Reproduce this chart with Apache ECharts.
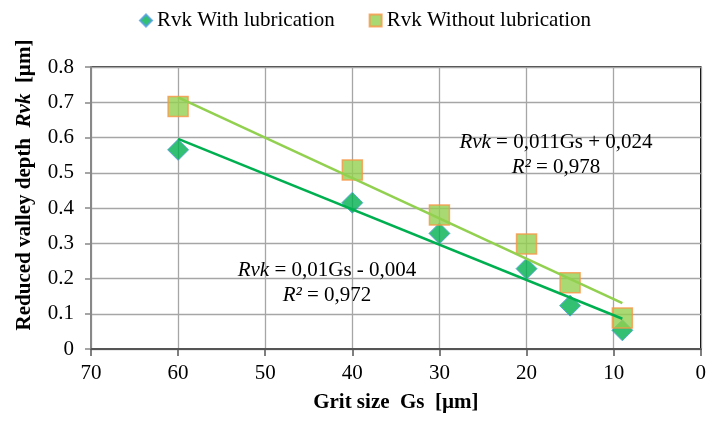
<!DOCTYPE html>
<html>
<head>
<meta charset="utf-8">
<script src="https://cdn.jsdelivr.net/npm/echarts@6/dist/echarts.min.js"></script>
<style>
html,body{margin:0;padding:0;background:#fff;}
#chart{width:709px;height:421px;}
</style>
</head>
<body>
<div id="chart"></div>
<script>
// Data
var gritSizes = [60, 40, 30, 20, 15, 9];
var rvkWith = [0.565, 0.415, 0.328, 0.228, 0.123, 0.053];
var rvkWithout = [0.688, 0.508, 0.380, 0.298, 0.188, 0.088];
// trendline endpoints (Gs = 60 and Gs = 9)
var trendX = [60, 9];
var trendWith = [0.596, 0.086];
var trendWithout = [0.714, 0.130];
var seriesNames = ['Rvk With lubrication', 'Rvk Without lubrication'];
var eqWith = ['Rvk', ' = 0,01Gs - 0,004', 'R²', ' = 0,972'];
var eqWithout = ['Rvk', ' = 0,011Gs + 0,024', 'R²', ' = 0,978'];

var FONT = '"Liberation Serif","Times New Roman",serif';

function pairs(xs, ys) {
  return xs.map(function (x, i) { return [x, ys[i]]; });
}

var chart = echarts.init(document.getElementById('chart'), null, {renderer: 'canvas'});

var option = {
  backgroundColor: '#ffffff',
  animation: false,
  textStyle: {fontFamily: FONT},
  legend: {
    left: 134,
    top: 5,
    itemWidth: 12,
    itemHeight: 12,
    itemGap: 34,
    textStyle: {fontFamily: FONT, fontSize: 21, color: '#000'},
    data: [
      {name: seriesNames[0], icon: 'diamond'},
      {name: seriesNames[1], icon: 'rect'}
    ]
  },
  grid: {
    left: 91, right: 8, top: 67, bottom: 72,
    show: true,
    borderColor: '#000',
    borderWidth: 1.5
  },
  xAxis: {
    type: 'value',
    inverse: true,
    min: 0, max: 70, interval: 10,
    name: 'Grit size  Gs  [µm]',
    nameLocation: 'middle',
    nameGap: 43,
    nameTextStyle: {fontFamily: FONT, fontSize: 21, fontWeight: 'bold', color: '#000'},
    axisLine: {show: true, onZero: false, lineStyle: {color: '#555', width: 2}},
    axisTick: {show: true, length: 7, lineStyle: {color: '#555', width: 1.5}},
    axisLabel: {fontFamily: FONT, fontSize: 21, color: '#000', margin: 14},
    splitLine: {show: true, lineStyle: {color: '#a6a6a6', width: 1.3}}
  },
  yAxis: {
    type: 'value',
    min: 0, max: 0.8, interval: 0.1,
    axisLine: {show: true, onZero: false, lineStyle: {color: '#888', width: 2}},
    axisTick: {show: true, length: 6, lineStyle: {color: '#888', width: 1.5}},
    axisLabel: {
      fontFamily: FONT, fontSize: 21, color: '#000', margin: 17,
      formatter: function (v) { return v === 0 ? '0' : v.toFixed(1); }
    },
    splitLine: {show: true, lineStyle: {color: '#a6a6a6', width: 1.3}}
  },
  series: [
    {
      name: seriesNames[0],
      type: 'scatter',
      symbol: 'diamond',
      symbolSize: 21,
      itemStyle: {color: '#00B050', borderColor: '#4F9BE0', borderWidth: 1},
      data: pairs(gritSizes, rvkWith),
      z: 2
    },
    {
      name: seriesNames[1],
      type: 'scatter',
      symbol: 'rect',
      symbolSize: 20,
      itemStyle: {color: '#92D050', borderColor: '#F79646', borderWidth: 1.5},
      data: pairs(gritSizes, rvkWithout),
      z: 3
    },
    {
      name: 'trendWith',
      type: 'line',
      data: pairs(trendX, trendWith),
      symbol: 'none',
      lineStyle: {color: '#00B050', width: 2.6},
      z: 4,
      silent: true
    },
    {
      name: 'trendWithout',
      type: 'line',
      data: pairs(trendX, trendWithout),
      symbol: 'none',
      lineStyle: {color: '#92D050', width: 2.6},
      z: 4,
      silent: true
    }
  ],
  graphic: [
    {
      type: 'text',
      x: 25, y: 185,
      rotation: Math.PI / 2,
      style: {
        text: '{b|Reduced valley depth  }{bi|Rvk}{b|  [µm]}',
        align: 'center', verticalAlign: 'middle',
        rich: {
          b: {fontFamily: FONT, fontSize: 21, fontWeight: 'bold', fill: '#000'},
          bi: {fontFamily: FONT, fontSize: 21, fontWeight: 'bold', fontStyle: 'italic', fill: '#000'}
        }
      }
    },
    {
      type: 'text', x: 556, y: 142, z: 10,
      style: {
        text: '{i|' + eqWithout[0] + '}{n|' + eqWithout[1] + '}',
        align: 'center', verticalAlign: 'middle',
        rich: {
          i: {fontFamily: FONT, fontSize: 21, fontStyle: 'italic', fill: '#000'},
          n: {fontFamily: FONT, fontSize: 21, fill: '#000'}
        }
      }
    },
    {
      type: 'text', x: 556, y: 167, z: 10,
      style: {
        text: '{i|' + eqWithout[2] + '}{n|' + eqWithout[3] + '}',
        align: 'center', verticalAlign: 'middle',
        rich: {
          i: {fontFamily: FONT, fontSize: 21, fontStyle: 'italic', fill: '#000'},
          n: {fontFamily: FONT, fontSize: 21, fill: '#000'}
        }
      }
    },
    {
      type: 'text', x: 327, y: 270, z: 10,
      style: {
        text: '{i|' + eqWith[0] + '}{n|' + eqWith[1] + '}',
        align: 'center', verticalAlign: 'middle',
        rich: {
          i: {fontFamily: FONT, fontSize: 21, fontStyle: 'italic', fill: '#000'},
          n: {fontFamily: FONT, fontSize: 21, fill: '#000'}
        }
      }
    },
    {
      type: 'text', x: 327, y: 295, z: 10,
      style: {
        text: '{i|' + eqWith[2] + '}{n|' + eqWith[3] + '}',
        align: 'center', verticalAlign: 'middle',
        rich: {
          i: {fontFamily: FONT, fontSize: 21, fontStyle: 'italic', fill: '#000'},
          n: {fontFamily: FONT, fontSize: 21, fill: '#000'}
        }
      }
    }
  ]
};

chart.setOption(option);
</script>
</body>
</html>
